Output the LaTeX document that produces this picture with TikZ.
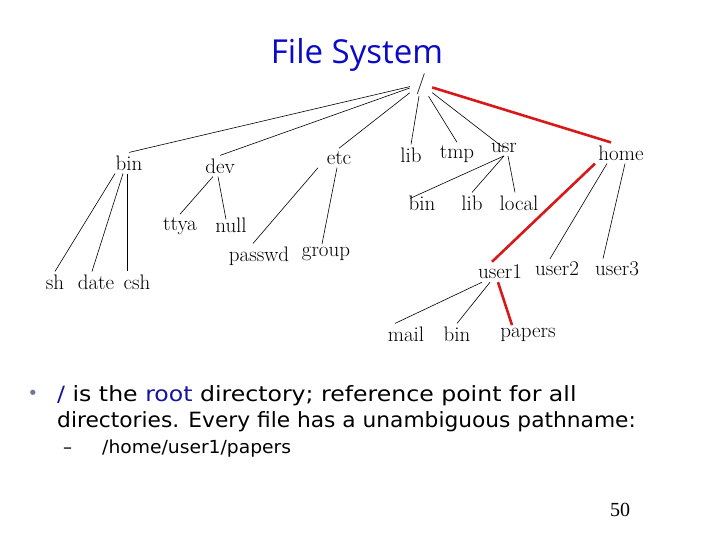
\documentclass[tikz,border=0pt]{standalone}
\usepackage{graphicx}
\usepackage{fontspec}
\newfontfamily\slidefont{DejaVu Sans}
\newfontfamily\titlefont{Open Sans}
\newfontfamily\numfont{Liberation Serif}
\definecolor{titleblue}{RGB}{10,10,200}
\definecolor{rootblue}{RGB}{20,20,160}
\definecolor{pathred}{RGB}{215,25,25}
\definecolor{bulletgray}{RGB}{110,120,150}
\tikzset{
  fs/.style={inner sep=3pt, font=\fontsize{21}{24}\selectfont},
  edge/.style={draw=black, line width=0.6pt},
  hot/.style={draw=pathred, line width=2.6pt},
  slide/.style={inner sep=0pt, anchor=base west, font=\slidefont\fontsize{21}{24}\selectfont},
}
\begin{document}
\begin{tikzpicture}[x=1pt,y=-1pt]
\useasboundingbox (0,0) rectangle (720,540);
\fill[white] (0,0) rectangle (720,540);
% title
\node[inner sep=0pt, anchor=base, text depth=0pt, text=titleblue, font=\titlefont\fontsize{33}{36}\selectfont] (title) at (357,64) {File System};
% tree nodes
\node[fs, inner sep=0pt, minimum width=22pt, minimum height=24pt] (root) at (421,84) {/};
\node[fs] (bin) at (129,163) {bin};
\node[fs] (dev) at (220,166) {dev};
\node[fs] (etc) at (339,158) {etc};
\node[fs] (lib) at (411,155) {lib};
\node[fs] (tmp) at (457,154) {tmp};
\node[fs] (usr) at (504,148) {usr};
\node[fs] (home) at (621,153) {home};
\node[fs] (sh) at (55,282) {sh};
\node[fs] (date) at (96,282) {date};
\node[fs] (csh) at (137,282) {csh};
\node[fs] (ttya) at (180,226) {ttya};
\node[fs] (null) at (231,225) {null};
\node[fs] (passwd) at (259,256) {passwd};
\node[fs] (group) at (326,254) {group};
\node[fs] (ubin) at (422,203) {bin};
\node[fs] (ulib) at (472,203) {lib};
\node[fs] (local) at (519,203) {local};
\node[fs] (user1) at (500,272) {user1};
\node[fs] (user2) at (557,269) {user2};
\node[fs] (user3) at (617,269) {user3};
\node[fs] (mail) at (406,334) {mail};
\node[fs] (hbin) at (457,334) {bin};
\node[fs] (papers) at (528,335) {papers};
% edges from root
\draw[edge] (root) -- (bin.north);
\draw[edge] (root) -- (dev.north);
\draw[edge] (root) -- (etc.north);
\draw[edge] (root) -- (lib.north);
\draw[edge] (root) -- (tmp.north);
\draw[edge] (root) -- ([yshift=-8pt]usr.north);
\draw[hot] (root) -- ([xshift=-10pt]home.north);
% bin
\draw[edge] ([xshift=-14pt]bin.south) -- (sh.north);
\draw[edge] ([xshift=-6pt]bin.south) -- ([xshift=-4pt]date.north);
\draw[edge] ([xshift=-2pt]bin.south) -- ([xshift=-10pt]csh.north);
% dev
\draw[edge] ([xshift=-7pt]dev.south) -- (ttya.north);
\draw[edge] ([xshift=-2pt]dev.south) -- ([xshift=-5pt,yshift=-5pt]null.north);
% etc
\draw[edge] ([xshift=-21pt]etc.south) -- ([xshift=-6pt]passwd.north);
\draw[edge] ([xshift=-2pt]etc.south) -- ([xshift=-4pt]group.north);
% usr
\draw[edge] (usr.south) -- ([xshift=-12pt,yshift=-6pt]ubin.north);
\draw[edge] (usr.south) -- (ulib.north);
\draw[edge] ([xshift=4pt]usr.south) -- ([xshift=-4pt]local.north);
% home
\draw[hot] ([xshift=-26pt]home.south) -- ([xshift=-8pt]user1.north);
\draw[edge] ([xshift=-14pt]home.south) -- ([xshift=-7pt]user2.north);
\draw[edge] ([xshift=4pt]home.south) -- ([xshift=-14pt]user3.north);
% user1
\draw[edge] ([xshift=-18pt]user1.south) -- ([xshift=-11pt]mail.north);
\draw[edge] ([xshift=-10pt]user1.south) -- (hbin.north);
\draw[hot] ([xshift=-2pt]user1.south) -- ([xshift=-16pt]papers.north);
% bullet text
\node[inner sep=0pt, text=bulletgray, font=\slidefont\fontsize{18}{20}\selectfont] (bullet) at (33,395) {•};
\node[slide] (line1) at (57,401) {\scalebox{1.124}[1]{\textcolor{rootblue}{/} is the \textcolor{rootblue}{root} directory; reference point for all}};
\node[slide] (line2) at (57,427) {\scalebox{1.035}[1]{directories. Every file has a unambiguous pathname:}};
\node[slide, font=\slidefont\fontsize{18}{20}\selectfont] (dash) at (63,453) {–};
\node[slide, font=\slidefont\fontsize{18}{20}\selectfont] (line3) at (102,453) {\scalebox{1.04}[1]{/home/user1/papers}};
\node[inner sep=0pt, font=\numfont\fontsize{20}{24}\selectfont] (pagenum) at (620,510) {50};
\end{tikzpicture}
\end{document}
